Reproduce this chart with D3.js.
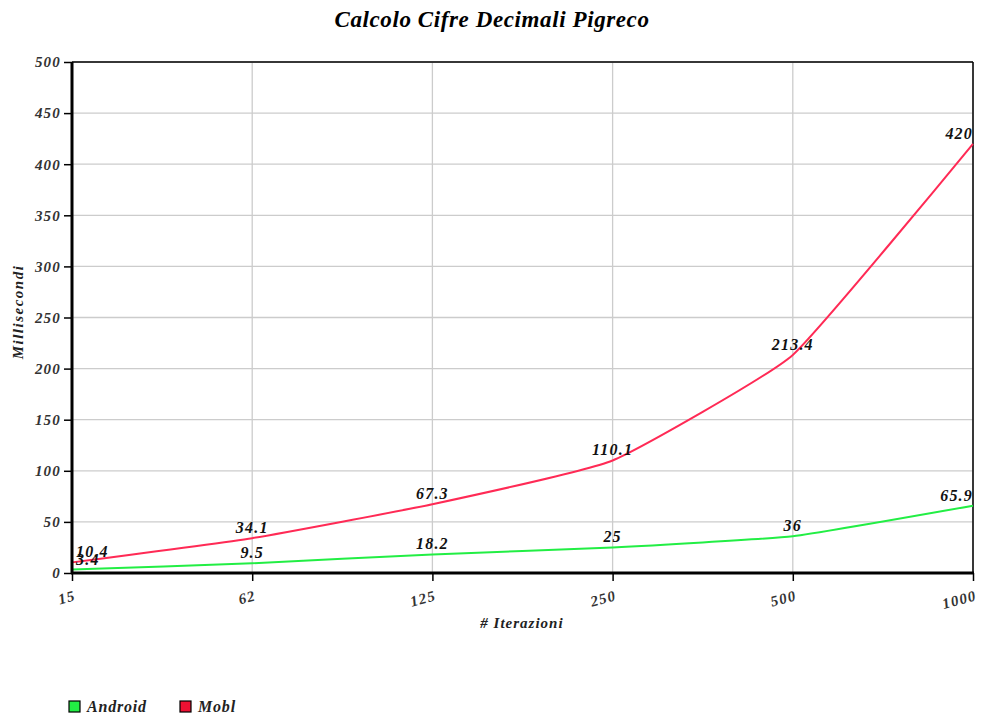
<!DOCTYPE html>
<html><head><meta charset="utf-8">
<script src="https://cdn.jsdelivr.net/npm/d3@7"></script>
<style>
body{margin:0;background:#fff;}
text{font-family:"Liberation Serif","DejaVu Serif",serif;font-style:italic;font-weight:bold;}
</style></head>
<body><svg id="c" width="981" height="716"></svg>
<script>
const categories = ["15","62","125","250","500","1000"];
const android = [3.4, 9.5, 18.2, 25, 36, 65.9];
const mobl = [10.4, 34.1, 67.3, 110.1, 213.4, 420];
const seriesNames = ["Android","Mobl"];
const seriesColors = ["#22ee44","#ff2a55"];
const legendColors = ["#22ee44","#ee1133"];
const yTicks = [0,50,100,150,200,250,300,350,400,450,500];

const svg = d3.select("#c");
const L=72, R=973, T=62, B=573;
const x = d3.scalePoint().domain(categories).range([L,R]);
const y = d3.scaleLinear().domain([0,500]).range([B,T]);

// grid
svg.append("g").selectAll("line").data(yTicks.slice(1)).join("line")
  .attr("x1",L).attr("x2",R).attr("y1",d=>y(d)).attr("y2",d=>y(d))
  .attr("stroke","#cccccc").attr("stroke-width",1.3);
svg.append("g").selectAll("line").data(categories.slice(1)).join("line")
  .attr("x1",d=>x(d)).attr("x2",d=>x(d)).attr("y1",T).attr("y2",B)
  .attr("stroke","#cccccc").attr("stroke-width",1.3);

// frame top/right
svg.append("line").attr("x1",L).attr("x2",R).attr("y1",T).attr("y2",T).attr("stroke","#000").attr("stroke-width",1.5);
svg.append("line").attr("x1",R).attr("x2",R).attr("y1",T).attr("y2",B).attr("stroke","#000").attr("stroke-width",1.5);

// title
svg.append("text").attr("x",492).attr("y",27).attr("text-anchor","middle")
  .attr("font-size",23).attr("letter-spacing",0.6).text("Calcolo Cifre Decimali Pigreco");

// lines
const series=[android,mobl];
const line = d3.line().x((d,i)=>x(categories[i])).y(d=>y(d)).curve(d3.curveCardinal.tension(0.6));
series.forEach((s,k)=>{
  svg.append("path").attr("d",line(s)).attr("fill","none")
    .attr("stroke",seriesColors[k]).attr("stroke-width",2);
});

// data labels
series.forEach((s,k)=>{
  svg.append("g").selectAll("text").data(s).join("text")
    .attr("font-size",16).attr("letter-spacing",1.2).attr("fill","#111")
    .attr("y",d=>y(d)-5)
    .text(d=>d)
    .each(function(d,i){
      const w=this.getComputedTextLength();
      let cx=x(categories[i])-w/2;
      cx=Math.max(L+4,Math.min(R-w,cx));
      d3.select(this).attr("x",cx);
    });
});

// y axis
const ya = svg.append("g").attr("transform",`translate(${L},0)`)
  .call(d3.axisLeft(y).tickValues(yTicks).tickSize(8).tickPadding(3));
ya.select(".domain").remove();
ya.selectAll(".tick line").attr("stroke","#000").attr("stroke-width",1.5);
ya.selectAll(".tick text").attr("font-size",15).attr("letter-spacing",1.2).attr("fill","#333")
  .style("font-family","Liberation Serif").style("font-style","italic").style("font-weight","bold");
svg.append("line").attr("x1",L).attr("x2",L).attr("y1",T).attr("y2",B+1).attr("stroke","#000").attr("stroke-width",3);

// x axis
const xa = svg.append("g").attr("transform",`translate(0,${B})`)
  .call(d3.axisBottom(x).tickSize(8).tickPadding(0));
xa.select(".domain").remove();
xa.selectAll(".tick line").attr("stroke","#000").attr("stroke-width",1.5);
xa.selectAll(".tick text").attr("font-size",15).attr("letter-spacing",1.2).attr("fill","#333")
  .style("font-family","Liberation Serif").style("font-style","italic").style("font-weight","bold")
  .attr("text-anchor","end").attr("dy",null).attr("y",0)
  .attr("transform","translate(4,27) rotate(-15)");
svg.append("line").attr("x1",L-1).attr("x2",R+1).attr("y1",B).attr("y2",B).attr("stroke","#000").attr("stroke-width",3);

// axis titles
svg.append("text").attr("x",522).attr("y",628).attr("text-anchor","middle").attr("font-size",15).attr("letter-spacing",1).attr("fill","#222").text("# Iterazioni");
svg.append("text").attr("transform","translate(23,312) rotate(-90)").attr("text-anchor","middle").attr("font-size",15).attr("letter-spacing",1.5).attr("fill","#222").text("Millisecondi");

// legend
const lg = svg.append("g");
seriesNames.forEach((n,k)=>{
  const gx = 69 + k*111;
  lg.append("rect").attr("x",gx).attr("y",701).attr("width",11).attr("height",11)
    .attr("fill",legendColors[k]).attr("stroke","#000").attr("stroke-width",1.2);
  lg.append("text").attr("x",gx+18).attr("y",712).attr("font-size",16).attr("letter-spacing",0.8).attr("fill","#222").text(n);
});
</script></body></html>
